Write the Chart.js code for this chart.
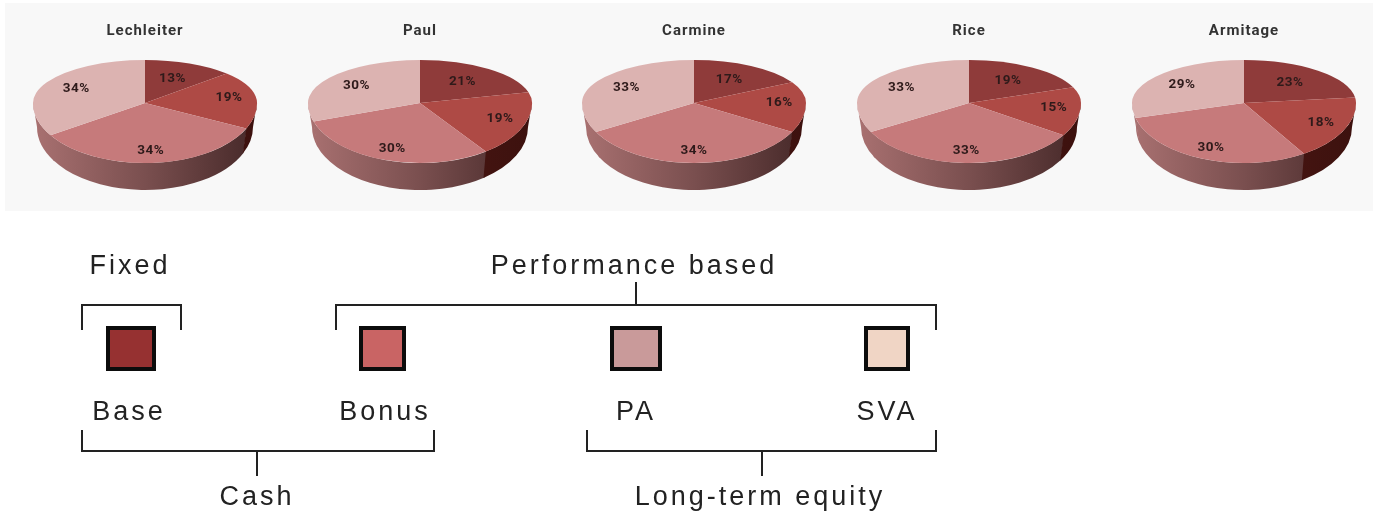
<!DOCTYPE html>
<html>
<head>
<meta charset="utf-8">
<script src="https://cdn.jsdelivr.net/npm/chart.js@4"></script>
<style>
html,body{margin:0;padding:0;background:#fff;width:1373px;height:512px;overflow:hidden}
#page{position:relative;width:1373px;height:512px;filter:blur(.7px)}
#panel{position:absolute;left:5px;top:3px;width:1368px;height:208px;background:#f8f8f8}
canvas{position:absolute}
.t{position:absolute;transform:translateX(-50%);font:27px "Liberation Sans",Arial,sans-serif;letter-spacing:3px;color:#222;white-space:nowrap;line-height:30px}
.l{position:absolute;background:#222}
.s{position:absolute;box-sizing:border-box;border:4px solid #0c0c0c}
</style>
</head>
<body>
<div id="page"><div id="panel"></div></div>
<script>
const names = ["Lechleiter","Paul","Carmine","Rice","Armitage"];
const components = ["Base","Bonus","PA","SVA"];
const lechleiter = [13,19,34,34];
const paul = [21,19,30,30];
const carmine = [17,16,34,33];
const rice = [19,15,33,33];
const armitage = [23,18,30,29];
const allValues = [lechleiter,paul,carmine,rice,armitage];
const sliceColors = ["#8f3b3a","#ae4a45","#c67a7b","#dcb3b1"];
const labelRadius = [.62,.76,.8,.7];
const pieCentres = [145,420,694,969,1244];

// Tilted-pie look: the far half is flatter than the near half
const FAR = 0.384, NEAR = 0.536, RADIUS = 112;
const FLOOR_DROP = 24, FLOOR_RX = 108, FLOOR_RY = 63;

function wallGradient(ctx,a,i){
  const g = ctx.createLinearGradient(a.x-a.outerRadius,0,a.x+a.outerRadius,0);
  if(i===1){ g.addColorStop(0,"#5a1c18"); g.addColorStop(1,"#3c110e"); }
  else { g.addColorStop(0,"#a97171"); g.addColorStop(.5,"#7a4f4f"); g.addColorStop(1,"#452828"); }
  return g;
}
function squash(ctx,y,k){ ctx.translate(0,y); ctx.scale(1,k); ctx.translate(0,-y); }

const pie3d = {
  id:"pie3d",
  beforeDraw(chart){ chart.ctx.letterSpacing = "1px"; },
  beforeDatasetsDraw(chart){
    const ctx = chart.ctx, arcs = chart.getDatasetMeta(0).data;
    [3,2,1,0].forEach(i=>{
      const a = arcs[i], pad = i>1 ? .012 : 0;
      const s = Math.max(a.startAngle-pad,0), e = Math.min(a.endAngle+pad,Math.PI);
      if(s>=e) return;
      ctx.beginPath();
      ctx.ellipse(a.x,a.y,a.outerRadius,a.outerRadius*NEAR,0,s,e);
      ctx.ellipse(a.x,a.y+FLOOR_DROP,FLOOR_RX,FLOOR_RY,0,e,s,true);
      ctx.closePath();
      ctx.fillStyle = wallGradient(ctx,a,i); ctx.fill();
    });
    const a0 = arcs[0];
    ctx.save();
    ctx.beginPath(); ctx.rect(0,0,chart.width,Math.ceil(a0.y)); ctx.clip();
    squash(ctx,a0.y,FAR);
  },
  afterDatasetsDraw(chart){
    const ctx = chart.ctx, arcs = chart.getDatasetMeta(0).data, a0 = arcs[0];
    ctx.restore();
    ctx.save();
    ctx.beginPath(); ctx.rect(0,Math.floor(a0.y),chart.width,chart.height); ctx.clip();
    squash(ctx,a0.y,NEAR);
    arcs.forEach(a=>a.draw(ctx));
    ctx.restore();
    ctx.save();
    ctx.font = "bold 13.5px Roboto, sans-serif";
    ctx.letterSpacing = "0.5px";
    ctx.fillStyle = "#2e1a1a";
    ctx.textAlign = "center"; ctx.textBaseline = "middle";
    arcs.forEach((a,i)=>{
      const m = (a.startAngle+a.endAngle)/2, r = a.outerRadius*labelRadius[i];
      const sy = Math.sin(m);
      ctx.fillText(chart.data.datasets[0].data[i]+"%", a.x+Math.cos(m)*r, a.y+sy*r*(sy<0?FAR:NEAR));
    });
    ctx.restore();
  }
};

const page = document.getElementById("page");
names.forEach((n,i)=>{
  const c = document.createElement("canvas");
  c.width = 274; c.height = 208;
  c.style.left = (pieCentres[i]-137)+"px"; c.style.top = "3px";
  c.style.width = "274px"; c.style.height = "208px";
  page.appendChild(c);
  new Chart(c,{
    type:"pie",
    data:{labels:components,datasets:[{data:allValues[i],backgroundColor:sliceColors,borderWidth:0}]},
    options:{
      responsive:false,animation:false,radius:RADIUS,
      layout:{padding:{top:0,bottom:48,left:0,right:0}},
      plugins:{
        legend:{display:false},tooltip:{enabled:false},
        title:{display:true,text:n,color:"#333",font:{family:"Roboto",weight:"bold",size:15},padding:{top:19,bottom:3}}
      }
    },
    plugins:[pie3d]
  });
});

const groupLabels = [["Fixed",130,265],["Performance based",634,265],["Base",129,411],["Bonus",385,411],["PA",636,411],["SVA",887,411],["Cash",257,496],["Long-term equity",760,496]];
groupLabels.forEach(([txt,x,y])=>{
  const d=document.createElement("div");d.className="t";d.textContent=txt;
  d.style.left=x+"px";d.style.top=(y-15)+"px";page.appendChild(d);
});
const swatches=[[106,326,50,45,"#963131"],[359,326,47,45,"#c96464"],[610,326,52,45,"#c99a9a"],[864,326,46,45,"#f0d5c5"]];
swatches.forEach(([x,y,w,h,col])=>{
  const d=document.createElement("div");d.className="s";
  d.style.cssText=`left:${x}px;top:${y}px;width:${w}px;height:${h}px;background:${col}`;page.appendChild(d);
});
function line(x,y,w,h){const d=document.createElement("div");d.className="l";d.style.cssText=`left:${x}px;top:${y}px;width:${w}px;height:${h}px`;page.appendChild(d);}
const LW=2;
[[81,180,null],[335,935,635]].forEach(([a,b,st])=>{
  line(a,304,b-a+LW,LW);line(a,304,LW,26);line(b,304,LW,26);
  if(st)line(st,282,LW,22);
});
[[81,433,256],[586,935,761]].forEach(([a,b,st])=>{
  line(a,450,b-a+LW,LW);line(a,430,LW,22);line(b,430,LW,22);
  line(st,450,LW,26);
});
</script>
</body>
</html>
